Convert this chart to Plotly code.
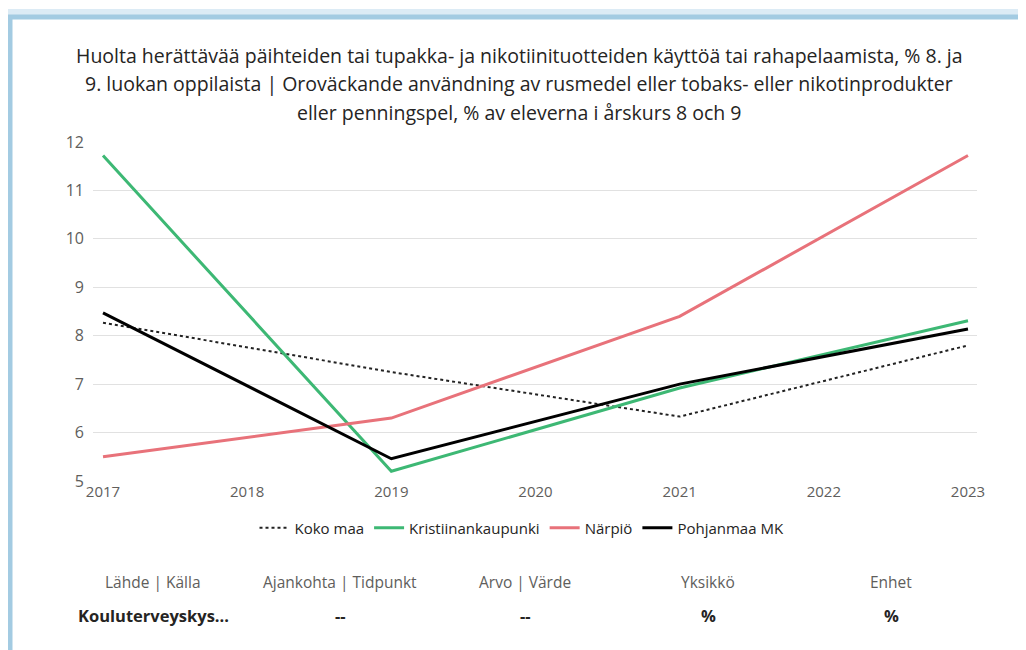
import plotly.graph_objects as go

# data
years = [2017, 2019, 2021, 2023]
koko_maa = [8.27, 7.25, 6.33, 7.8]
kristiinankaupunki = [11.72, 5.2, 6.92, 8.31]
narpio = [5.5, 6.3, 8.4, 11.72]
pohjanmaa = [8.47, 5.46, 7.0, 8.14]

table_headers = ['Lähde | Källa', 'Ajankohta | Tidpunkt', 'Arvo | Värde', 'Yksikkö', 'Enhet']
table_values = ['Kouluterveyskys...', '--', '--', '%', '%']

title_lines = [
    'Huolta herättävää päihteiden tai tupakka- ja nikotiinituotteiden käyttöä tai rahapelaamista, % 8. ja',
    '9. luokan oppilaista | Oroväckande användning av rusmedel eller tobaks- eller nikotinprodukter',
    'eller penningspel, % av eleverna i årskurs 8 och 9',
]

# the page puts the figure 8px in from the top-left corner
OFF = 8
W, H = 1026 - OFF, 650 - OFF
# plot area in window pixels
L, R, T, B = 93, 977, 142, 481


def px(x):
    return (x - L) / (R - L)


def py(y):
    return (B - y) / (B - T)


FONT = 'Open Sans'

fig = go.Figure()
fig.add_trace(go.Scatter(x=years, y=koko_maa, name='Koko maa', mode='lines',
                         line=dict(color='#222222', width=2, dash='dot')))
fig.add_trace(go.Scatter(x=years, y=kristiinankaupunki, name='Kristiinankaupunki', mode='lines',
                         line=dict(color='#3DB874', width=3)))
fig.add_trace(go.Scatter(x=years, y=narpio, name='Närpiö', mode='lines',
                         line=dict(color='#E8727A', width=3)))
fig.add_trace(go.Scatter(x=years, y=pohjanmaa, name='Pohjanmaa MK', mode='lines',
                         line=dict(color='#000000', width=3)))

annotations = []
for line_y, line in zip([55, 83.5, 112], title_lines):
    annotations.append(dict(text=line, x=px(519), y=py(line_y), xref='paper', yref='paper',
                            showarrow=False, xanchor='center', yanchor='middle',
                            font=dict(family=FONT, size=19.5, color='#252423')))

col_x = [153, 340, 525, 708, 891]
for cx, h, v in zip(col_x, table_headers, table_values):
    annotations.append(dict(text=h, x=px(cx), y=py(582), xref='paper', yref='paper',
                            showarrow=False, xanchor='center', yanchor='middle',
                            font=dict(family=FONT, size=15.5, color='#605E5C')))
    annotations.append(dict(text='<b>' + v + '</b>', x=px(cx), y=py(615), xref='paper', yref='paper',
                            showarrow=False, xanchor='center', yanchor='middle',
                            font=dict(family=FONT, size=16.5, color='#252423')))

shapes = [
    # card frame (left and top border with soft blue shade)
    dict(type='rect', xref='paper', yref='paper', x0=px(5), x1=px(1100), y0=py(12), y1=py(760),
         line=dict(color='#DCEBF5', width=6), layer='below'),
    dict(type='rect', xref='paper', yref='paper', x0=px(10), x1=px(1100), y0=py(17), y1=py(760),
         line=dict(color='#A3CBE2', width=5), layer='below'),
]

fig.update_layout(
    width=W, height=H,
    margin=dict(l=L - OFF, r=1026 - R, t=T - OFF, b=650 - B),
    paper_bgcolor='white', plot_bgcolor='white',
    font=dict(family=FONT, color='#605E5C'),
    showlegend=True,
    legend=dict(orientation='h', x=px(522), xanchor='center', y=py(528), yanchor='middle',
                font=dict(family=FONT, size=15, color='#252423'), itemwidth=30,
                tracegroupgap=0),
    xaxis=dict(range=[2017 - 10 / 144, 2023 + 9 / 144], tickvals=list(range(2017, 2024)),
               showgrid=False, zeroline=False, showline=False,
               tickfont=dict(family=FONT, size=15, color='#605E5C'), ticks=''),
    yaxis=dict(range=[5, 12], dtick=1, showgrid=True, gridcolor='#E1E1E1', gridwidth=1,
               zeroline=False, showline=False, ticks='', ticklabelstandoff=8,
               tickfont=dict(family=FONT, size=16, color='#605E5C')),
    annotations=annotations,
    shapes=shapes,
)

fig.write_html('out.html')
